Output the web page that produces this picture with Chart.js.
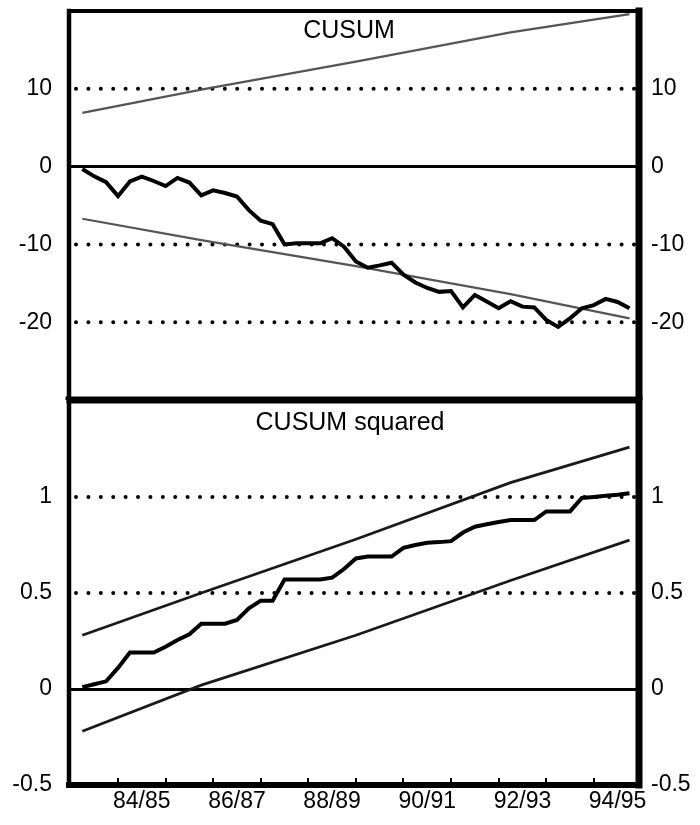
<!DOCTYPE html>
<html>
<head>
<meta charset="utf-8">
<script src="https://cdn.jsdelivr.net/npm/chart.js@4.4.0/dist/chart.umd.min.js"></script>
<style>
  html, body { margin: 0; padding: 0; background: #fff; }
  #wrap { position: relative; width: 700px; height: 825px; }
  canvas { position: absolute; left: 0; }
  #cusum { top: 0; }
  #cusumsq { top: 400px; }
</style>
</head>
<body>
<div id="wrap">
  <canvas id="cusum" width="700" height="400"></canvas>
  <canvas id="cusumsq" width="700" height="425"></canvas>
</div>
<script>
const FONT = '"Liberation Sans", Arial, Helvetica, sans-serif';

// quarterly recursive residual tests, first obs 1983 Q2 (fiscal years on the axis)
const firstQuarter = 83.25;
const cusum = [
  -0.3, -1.25, -2.0, -3.8, -1.9, -1.3, -1.85, -2.5, -1.45, -2.05,
  -3.7, -3.05, -3.4, -3.85, -5.6, -6.95, -7.4, -10.0, -9.85, -9.85,
  -9.85, -9.2, -10.3, -12.2, -13.0, -12.7, -12.35, -13.9, -14.9, -15.6,
  -16.1, -16.0, -18.1, -16.5, -17.35, -18.2, -17.3, -18.0, -18.1, -19.7,
  -20.6, -19.5, -18.2, -17.8, -17.0, -17.4, -18.2
];
const cusumSq = [
  0.01, 0.025, 0.04, 0.11, 0.19, 0.19, 0.19, 0.22, 0.255, 0.285,
  0.34, 0.34, 0.34, 0.36, 0.42, 0.46, 0.46, 0.57, 0.57, 0.57,
  0.57, 0.58, 0.625, 0.68, 0.69, 0.69, 0.69, 0.735, 0.75, 0.762,
  0.765, 0.77, 0.815, 0.845, 0.858, 0.87, 0.88, 0.88, 0.88, 0.925,
  0.925, 0.925, 0.995, 1.0, 1.006, 1.012, 1.02
];

// 5% bounds, read at these quarter indices
const boundIdx = [0, 10, 23, 36, 46];
const cusumUpper = [6.9, 9.9, 13.5, 17.25, 19.6];
const cusumLower = [-6.7, -9.45, -12.8, -16.4, -19.5];
const sqUpper = [0.28, 0.5, 0.78, 1.075, 1.26];
const sqLower = [-0.22, 0.02, 0.28, 0.565, 0.775];

// axes
const xMin = 82.97, xMax = 94.95;
const yearTicks = [84, 85, 86, 87, 88, 89, 90, 91, 92, 93, 94];
const yearLabels = ['84/85', '', '86/87', '', '88/89', '', '90/91', '', '92/93', '', '94/95'];
const cusumTicks = [-20, -10, 0, 10];
const cusumRefs = [10, -10, -20];
const sqTicks = [-0.5, 0, 0.5, 1];
const sqRefs = [1, 0.5];

const quarters = cusum.map((_, i) => firstQuarter + i * 0.25);
const series = vals => vals.map((v, i) => ({ x: quarters[i], y: v }));
const bound = vals => vals.map((v, i) => ({ x: quarters[boundIdx[i]], y: v }));

const framePlugin = {
  id: 'frame',
  afterDatasetsDraw(chart, args, opts) {
    const { ctx, chartArea: a } = chart;
    ctx.save();
    ctx.strokeStyle = '#000';
    ctx.lineCap = 'square';
    const side = (w, x1, y1, x2, y2) => {
      if (!w) return;
      ctx.lineWidth = w;
      ctx.beginPath();
      ctx.moveTo(x1, y1);
      ctx.lineTo(x2, y2);
      ctx.stroke();
    };
    side(opts.top, a.left, a.top, a.right, a.top);
    side(opts.bottom, a.left, a.bottom, a.right, a.bottom);
    side(opts.left, a.left, a.top, a.left, a.bottom);
    side(opts.right, a.right, a.top, a.right, a.bottom);
    ctx.restore();
  }
};

const titlePlugin = {
  id: 'panelTitle',
  afterDatasetsDraw(chart, args, opts) {
    const { ctx, chartArea: a } = chart;
    ctx.save();
    ctx.font = '25px ' + FONT;
    ctx.fillStyle = '#000';
    ctx.textAlign = 'center';
    ctx.textBaseline = 'alphabetic';
    ctx.fillText(opts.text, (a.left + a.right) / 2 + opts.dx, a.top + opts.dy);
    ctx.restore();
  }
};

function refLine(level) {
  return {
    data: [{ x: xMin, y: level }, { x: xMax, y: level }],
    borderColor: '#000',
    borderWidth: 4,
    borderDash: [0, 12.4],
    borderDashOffset: 5.4,
    borderCapStyle: 'round'
  };
}

function yAxes(min, max, tickVals) {
  const common = {
    min: min,
    max: max,
    afterBuildTicks: s => { s.ticks = tickVals.map(v => ({ value: v })); },
    border: { display: false },
    ticks: {
      color: '#000',
      font: { family: FONT, size: 23 },
      callback: v => String(v)
    }
  };
  return {
    y: Object.assign({}, common, {
      position: 'left',
      grid: {
        drawTicks: false,
        lineWidth: 3,
        color: c => (c.tick && c.tick.value === 0 ? '#000' : 'rgba(0,0,0,0)')
      },
      ticks: Object.assign({}, common.ticks, { padding: 17 }),
      afterFit: s => { s.width = 69; s.paddingTop = 0; s.paddingBottom = 0; }
    }),
    y2: Object.assign({}, common, {
      position: 'right',
      grid: { display: false, drawTicks: false },
      ticks: Object.assign({}, common.ticks, { padding: 12 }),
      afterFit: s => { s.width = 61; s.paddingTop = 0; s.paddingBottom = 0; }
    })
  };
}

// top panel: CUSUM
new Chart(document.getElementById('cusum'), {
  type: 'line',
  data: {
    datasets: [
      { data: series(cusum), borderColor: '#000', borderWidth: 4, borderJoinStyle: 'miter' },
      { data: bound(cusumUpper), borderColor: '#555', borderWidth: 2.2 },
      { data: bound(cusumLower), borderColor: '#555', borderWidth: 2.2 },
      ...cusumRefs.map(refLine)
    ]
  },
  options: {
    responsive: false,
    animation: false,
    events: [],
    layout: { padding: { top: 11, bottom: 0, left: 0, right: 0 } },
    elements: { point: { radius: 0 }, line: { tension: 0 } },
    plugins: {
      legend: { display: false },
      tooltip: { enabled: false },
      frame: { top: 4, left: 4.5, right: 7, bottom: 7 },
      panelTitle: { text: 'CUSUM', dx: -5, dy: 27 }
    },
    scales: Object.assign({
      x: { type: 'linear', min: xMin, max: xMax, display: false }
    }, yAxes(-30, 20, cusumTicks))
  },
  plugins: [framePlugin, titlePlugin]
});

// bottom panel: CUSUM of squares
new Chart(document.getElementById('cusumsq'), {
  type: 'line',
  data: {
    datasets: [
      { data: series(cusumSq), borderColor: '#000', borderWidth: 4, borderJoinStyle: 'miter' },
      { data: bound(sqUpper), borderColor: '#1a1a1a', borderWidth: 2.8 },
      { data: bound(sqLower), borderColor: '#1a1a1a', borderWidth: 2.8 },
      ...sqRefs.map(refLine)
    ]
  },
  options: {
    responsive: false,
    animation: false,
    events: [],
    layout: { padding: { top: 1, bottom: 0, left: 0, right: 0 } },
    elements: { point: { radius: 0 }, line: { tension: 0 } },
    plugins: {
      legend: { display: false },
      tooltip: { enabled: false },
      frame: { top: 5, left: 4.5, right: 7, bottom: 6 },
      panelTitle: { text: 'CUSUM squared', dx: -4, dy: 29 }
    },
    scales: Object.assign({
      x: {
        type: 'linear',
        min: xMin,
        max: xMax,
        afterBuildTicks: s => { s.ticks = yearTicks.map(v => ({ value: v })); },
        border: { display: false },
        grid: { drawOnChartArea: false, drawTicks: true, tickLength: -7, lineWidth: 2, color: '#000' },
        ticks: {
          autoSkip: false,
          maxRotation: 0,
          minRotation: 0,
          labelOffset: 23.8,
          padding: 10,
          color: '#000',
          font: { family: FONT, size: 23 },
          callback: (v, i) => yearLabels[i]
        },
        afterFit: s => { s.height = 40; s.paddingLeft = 0; s.paddingRight = 0; }
      }
    }, yAxes(-0.5, 1.5, sqTicks))
  },
  plugins: [framePlugin, titlePlugin]
});
</script>
</body>
</html>
